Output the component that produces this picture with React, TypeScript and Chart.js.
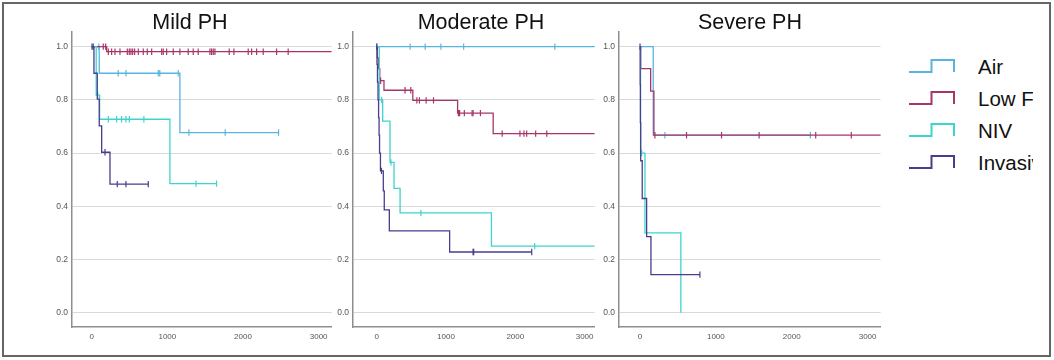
import React, { useEffect, useRef } from "react";
import { Chart, registerables } from "chart.js";

Chart.register(...registerables);

// ---------- data ----------
const GROUPS = ["Air", "Low Flow", "NIV", "Invasive"];
const GROUP_COLORS = ["#5AB4E0", "#A8356A", "#3ED3CC", "#4B3C8C"];
const PANEL_TITLES = ["Mild PH", "Moderate PH", "Severe PH"];
const Y_TICKS = [0, 0.2, 0.4, 0.6, 0.8, 1.0];
const X_TICKS = [0, 1000, 2000, 3000];

// Mild PH  (T = step times, S = survival after step, C = censored times)
const MILD_AIR_T = [0, 100, 1166, 2470];
const MILD_AIR_S = [1, 0.9, 0.677, 0.677];
const MILD_AIR_C = [95, 351, 453, 880, 900, 1144, 1285, 1765, 2470];

const MILD_LOW_T = [0, 198, 3200];
const MILD_LOW_S = [1, 0.981, 0.981];
const MILD_LOW_C = [153, 185, 220, 264, 308, 374, 471, 497, 519, 542, 568, 616, 682, 735, 793, 925, 946, 991, 1078, 1166, 1276, 1342, 1408, 1563, 1585, 1607, 1629, 1818, 1880, 2069, 2114, 2180, 2267, 2444, 2597];

const MILD_NIV_T = [0, 60, 105, 1034, 1651];
const MILD_NIV_S = [1, 0.818, 0.727, 0.485, 0.485];
const MILD_NIV_C = [80, 220, 330, 396, 453, 497, 690, 1378, 1651];

const MILD_INV_T = [0, 30, 74, 100, 132, 242, 748];
const MILD_INV_S = [1, 0.9, 0.803, 0.702, 0.603, 0.483, 0.483];
const MILD_INV_C = [5, 20, 176, 338, 453, 748];

// Moderate PH
const MOD_AIR_T = [0, 3200];
const MOD_AIR_S = [1, 1];
const MOD_AIR_C = [4, 483, 700, 927, 1255, 2570];

const MOD_LOW_T = [0, 10, 25, 45, 106, 522, 1168, 1681, 3200];
const MOD_LOW_S = [1, 0.958, 0.917, 0.872, 0.836, 0.798, 0.75, 0.673, 0.673];
const MOD_LOW_C = [58, 410, 493, 580, 617, 714, 820, 1180, 1197, 1265, 1377, 1391, 1497, 1811, 2067, 2125, 2164, 2294, 2454];

const MOD_NIV_T = [0, 38, 87, 193, 251, 338, 1656, 3200];
const MOD_NIV_S = [1, 0.8, 0.72, 0.565, 0.467, 0.375, 0.25, 0.25];
const MOD_NIV_C = [72, 207, 638, 2280];

const MOD_INV_T = [0, 5, 12, 20, 28, 35, 42, 55, 96, 110, 183, 1053, 2237];
const MOD_INV_S = [1, 0.933, 0.867, 0.8, 0.733, 0.667, 0.6, 0.533, 0.458, 0.386, 0.307, 0.228, 0.228];
const MOD_INV_C = [2, 70, 1391, 1400, 2237];

// Severe PH
const SEV_AIR_T = [0, 175, 2246];
const SEV_AIR_S = [1, 0.667, 0.667];
const SEV_AIR_C = [329, 2246];

const SEV_LOW_T = [0, 10, 141, 184, 3200];
const SEV_LOW_S = [1, 0.917, 0.833, 0.667, 0.667];
const SEV_LOW_C = [197, 614, 1075, 1570, 2316, 2785];

const SEV_NIV_T = [0, 8, 66, 539];
const SEV_NIV_S = [1, 0.6, 0.3, 0];
const SEV_NIV_C = [22];

const SEV_INV_T = [0, 3, 6, 10, 30, 88, 145, 790];
const SEV_INV_S = [1, 0.857, 0.714, 0.571, 0.429, 0.286, 0.143, 0.143];
const SEV_INV_C = [1, 790];

const PANEL_SERIES: number[][][][] = [
  [
    [MILD_AIR_T, MILD_AIR_S, MILD_AIR_C],
    [MILD_LOW_T, MILD_LOW_S, MILD_LOW_C],
    [MILD_NIV_T, MILD_NIV_S, MILD_NIV_C],
    [MILD_INV_T, MILD_INV_S, MILD_INV_C],
  ],
  [
    [MOD_AIR_T, MOD_AIR_S, MOD_AIR_C],
    [MOD_LOW_T, MOD_LOW_S, MOD_LOW_C],
    [MOD_NIV_T, MOD_NIV_S, MOD_NIV_C],
    [MOD_INV_T, MOD_INV_S, MOD_INV_C],
  ],
  [
    [SEV_AIR_T, SEV_AIR_S, SEV_AIR_C],
    [SEV_LOW_T, SEV_LOW_S, SEV_LOW_C],
    [SEV_NIV_T, SEV_NIV_S, SEV_NIV_C],
    [SEV_INV_T, SEV_INV_S, SEV_INV_C],
  ],
];

// ---------- layout ----------
const X_RANGES = [
  [-260, 3171],
  [-341, 3144],
  [-276, 3171],
];
const Y_MIN = -0.054;
const Y_MAX = 1.055;
const PANEL_BOXES = [
  { left: 32, width: 304, titleCenter: 190 },
  { left: 313, width: 286, titleCenter: 481 },
  { left: 579, width: 306, titleCenter: 750 },
];
const CANVAS_H = 345;
const FONT = "'Liberation Sans', Arial, Helvetica, sans-serif";

function survAt(T: number[], S: number[], t: number) {
  let y = S[0];
  for (let k = 0; k < T.length; k++) if (T[k] <= t) y = S[k];
  return y;
}

function kmPoints(T: number[], S: number[], C: number[]) {
  const pts = T.map((t, i) => ({ x: t, y: S[i], c: false }));
  for (const t of C) {
    const i = T.indexOf(t);
    if (i >= 0) pts[i].c = true;
    else pts.push({ x: t, y: survAt(T, S, t), c: true });
  }
  pts.sort((a, b) => a.x - b.x);
  return pts;
}

function KMPanel({ index }: { index: number }) {
  const ref = useRef<HTMLCanvasElement>(null);
  useEffect(() => {
    const series = PANEL_SERIES[index];
    const chart = new Chart(ref.current as HTMLCanvasElement, {
      type: "line",
      data: {
        datasets: series.map((s, gi) => ({
          label: GROUPS[gi],
          data: kmPoints(s[0], s[1], s[2]),
          borderColor: GROUP_COLORS[gi],
          backgroundColor: GROUP_COLORS[gi],
          borderWidth: 1.3,
          stepped: "before",
          fill: false,
          order: 3 - gi,
          pointStyle: "line",
          pointRotation: 90,
          pointRadius: (ctx: any) => (ctx.raw && ctx.raw.c ? 3.2 : 0),
          pointBorderColor: GROUP_COLORS[gi],
          pointBorderWidth: 1.2,
          pointHoverRadius: 0,
        })) as any,
      },
      options: {
        responsive: false,
        animation: false,
        events: [],
        layout: { padding: { top: 32, right: 4, left: 0, bottom: 0 } },
        plugins: { legend: { display: false }, tooltip: { enabled: false }, title: { display: false } },
        scales: {
          x: {
            type: "linear",
            min: X_RANGES[index][0],
            max: X_RANGES[index][1],
            afterBuildTicks: (s: any) => {
              s.ticks = X_TICKS.map((v) => ({ value: v }));
            },
            afterFit: (s: any) => {
              s.height = 18;
            },
            grid: { display: false, drawTicks: false },
            border: { display: true, color: "#8e8e8e", width: 1.5 },
            ticks: {
              color: "#555",
              font: { family: FONT, size: 8 },
              padding: 5,
              maxRotation: 0,
              autoSkip: false,
              callback: (v: any) => String(v),
            },
          },
          y: {
            type: "linear",
            min: Y_MIN,
            max: Y_MAX,
            afterBuildTicks: (s: any) => {
              s.ticks = Y_TICKS.map((v) => ({ value: v }));
            },
            afterFit: (s: any) => {
              s.width = 40;
            },
            grid: { color: "#d9d9d9", lineWidth: 1, drawTicks: false },
            border: { display: true, color: "#8e8e8e", width: 1.5 },
            ticks: {
              color: "#555",
              font: { family: FONT, size: 8.5 },
              padding: 4,
              autoSkip: false,
              callback: (v: any) => Number(v).toFixed(1),
            },
          },
        },
      } as any,
    });
    return () => chart.destroy();
  }, [index]);
  const box = PANEL_BOXES[index];
  return (
    <>
      <canvas
        ref={ref}
        width={box.width}
        height={CANVAS_H}
        style={{ position: "absolute", left: box.left, top: 0, width: box.width, height: CANVAS_H }}
      />
      <div
        style={{
          position: "absolute",
          left: box.titleCenter - 100,
          width: 200,
          top: 12,
          textAlign: "center",
          fontFamily: FONT,
          fontSize: 21.5,
          lineHeight: "21.5px",
          color: "#111",
        }}
      >
        {PANEL_TITLES[index]}
      </div>
    </>
  );
}

function Legend() {
  return (
    <>
      {GROUPS.map((g, i) => {
        const baseline = 74 + i * 32;
        const iconBottom = baseline - 2;
        return (
          <React.Fragment key={g}>
            <svg
              width={50}
              height={16}
              style={{ position: "absolute", left: 907, top: iconBottom - 14 }}
            >
              <path
                d="M2,14 H24.5 V2 H47 V14"
                fill="none"
                stroke={GROUP_COLORS[i]}
                strokeWidth={2}
              />
            </svg>
            <div
              style={{
                position: "absolute",
                left: 978,
                width: 55,
                overflow: "hidden",
                whiteSpace: "nowrap",
                top: baseline - 17.4,
                fontFamily: FONT,
                fontSize: 20.5,
                lineHeight: "20.5px",
                color: "#111",
              }}
            >
              {g}
            </div>
          </React.Fragment>
        );
      })}
    </>
  );
}

export default function App() {
  return (
    <div
      style={{
        position: "fixed",
        left: 0,
        top: 0,
        width: 1054,
        height: 360,
        background: "#fff",
        overflow: "hidden",
      }}
    >
      <KMPanel index={0} />
      <KMPanel index={1} />
      <KMPanel index={2} />
      <Legend />
      <div
        style={{
          position: "absolute",
          left: 2,
          top: 2,
          width: 1049,
          height: 355,
          boxSizing: "border-box",
          border: "2px solid #666",
          pointerEvents: "none",
        }}
      />
    </div>
  );
}
